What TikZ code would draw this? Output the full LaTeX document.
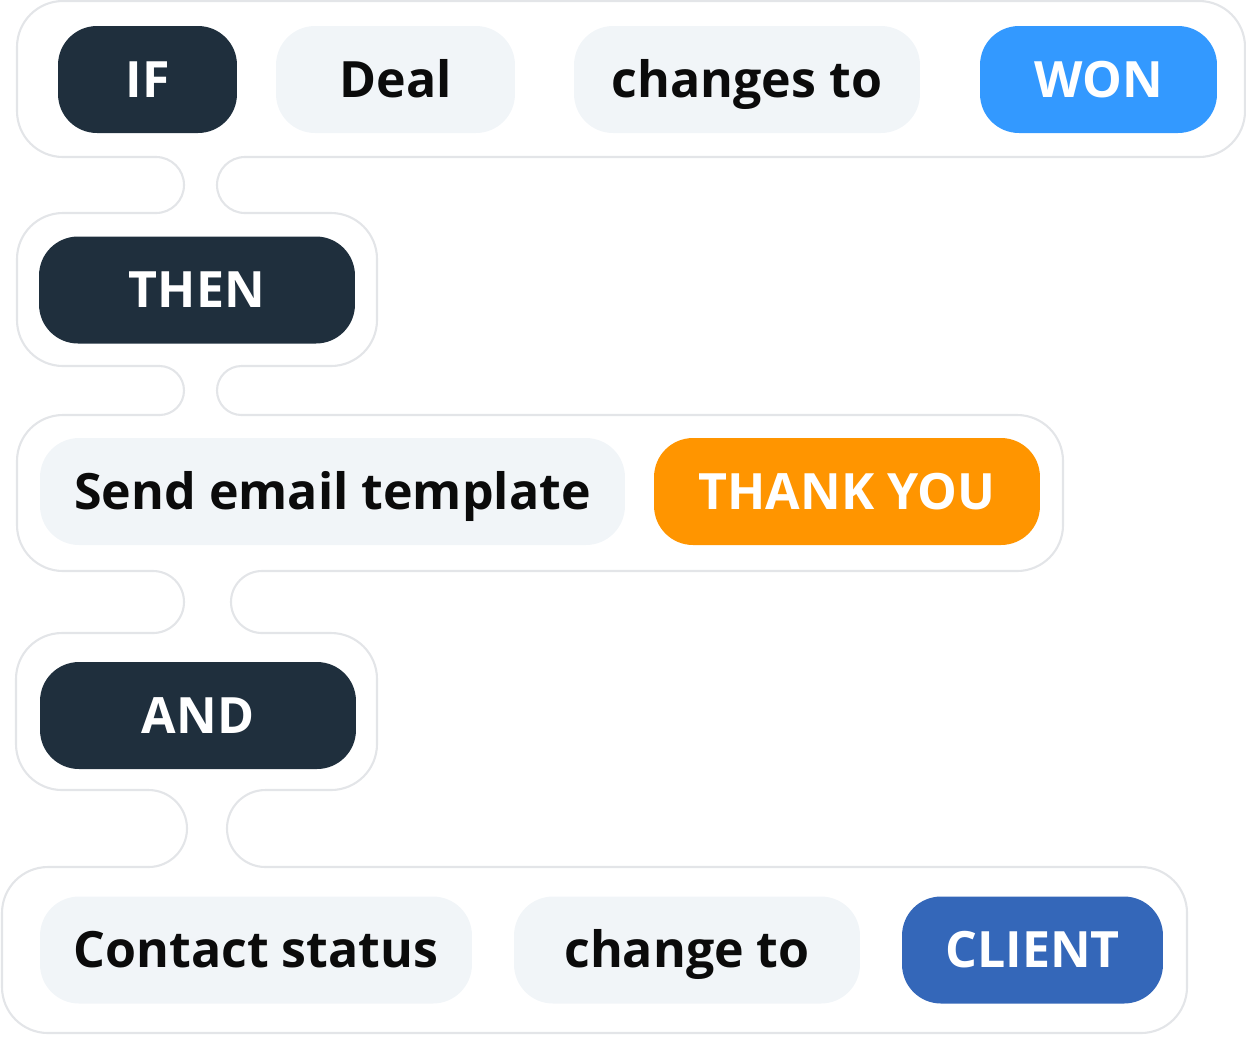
\documentclass[tikz,border=0pt]{standalone}
\usepackage{fontspec}
\setmainfont{Open Sans}
\usetikzlibrary{positioning}
\definecolor{rulenavy}{HTML}{1F2F3D}
\definecolor{rulepale}{HTML}{F1F5F8}
\definecolor{ruleblue}{HTML}{3399FF}
\definecolor{ruleorange}{HTML}{FF9500}
\definecolor{rulecobalt}{HTML}{3467B9}
\definecolor{rulegray}{HTML}{E3E5E8}
\definecolor{ruleink}{HTML}{0B0B0B}

\begin{document}
\begin{tikzpicture}[x=0.02cm,y=-0.02cm,
  frame/.style={rulegray,line width=1.2pt,line cap=round,rounded corners=0.92cm},
  neck/.style={rulegray,line width=1.2pt,line cap=round,rounded corners=#1},
  pill/.style={rounded corners=0.78cm,minimum height=2.14cm,inner sep=0pt,
    text height=20.3pt,text depth=0pt,font=\fontsize{28.5}{32}\selectfont\bfseries},
  keyword/.style={pill,fill=rulenavy,text=white},
  field/.style={pill,fill=rulepale,text=ruleink},
  value/.style={pill,fill=#1,text=white}]

  \useasboundingbox (0,0) rectangle (1246,1036);

  % ---- Outer frames (open where the necks join) -------------
  % IF row
  \draw[frame] (245,157) -- (1245,157) -- (1245,1) -- (17,1) -- (17,157) -- (156,157);
  % THEN row
  \draw[frame] (245,213) -- (377,213) -- (377,366) -- (241.5,366);
  \draw[frame] (159.5,366) -- (17,366) -- (17,213) -- (156,213);
  % Action row
  \draw[frame] (241.5,415) -- (1063,415) -- (1063,571) -- (262,571);
  \draw[frame] (153,571) -- (17,571) -- (17,415) -- (159.5,415);
  % AND row
  \draw[frame] (262,633) -- (377,633) -- (377,790) -- (265.5,790);
  \draw[frame] (148.5,790) -- (16,790) -- (16,633) -- (153,633);
  % Status row
  \draw[frame] (265.5,867) -- (1187,867) -- (1187,1033) -- (2,1033) -- (2,867) -- (148.5,867);

  % ---- Necks between the rows -------------------------------
  \draw[neck=0.56cm] (156,157) -- (184,157) -- (184,213) -- (156,213);
  \draw[neck=0.56cm] (245,157) -- (217,157) -- (217,213) -- (245,213);
  \draw[neck=0.49cm] (159.5,366) -- (184,366) -- (184,415) -- (159.5,415);
  \draw[neck=0.49cm] (241.5,366) -- (217,366) -- (217,415) -- (241.5,415);
  \draw[neck=0.62cm] (153,571) -- (184,571) -- (184,633) -- (153,633);
  \draw[neck=0.62cm] (262,571) -- (231,571) -- (231,633) -- (262,633);
  \draw[neck=0.77cm] (148.5,790) -- (187,790) -- (187,867) -- (148.5,867);
  \draw[neck=0.77cm] (265.5,790) -- (227,790) -- (227,867) -- (265.5,867);

  % ---- Trigger ----------------------------------------------
  \node[keyword,minimum width=3.58cm] (if) at (147.5,79.5) {IF};
  \node[field,minimum width=4.78cm] (deal) at (395.5,79.5) {Deal};
  \node[field,minimum width=6.92cm] (changes) at (747,79.5) {changes to};
  \node[value=ruleblue,minimum width=4.74cm] (won) at (1098.5,79.5) {WON};

  % ---- First action -----------------------------------------
  \node[keyword,minimum width=6.32cm] (then) at (197,290) {THEN};
  \node[field,minimum width=11.7cm] (email) at (332.5,491.5) {Send email template};
  \node[value=ruleorange,minimum width=7.72cm] (thanks) at (847,491.5) {THANK YOU};

  % ---- Second action ----------------------------------------
  \node[keyword,minimum width=6.32cm] (and) at (198,715.5) {AND};
  \node[field,minimum width=8.64cm] (status) at (256,950) {Contact status};
  \node[field,minimum width=6.92cm] (change) at (687,950) {change to};
  \node[value=rulecobalt,minimum width=5.22cm] (client) at (1032.5,950) {CLIENT};

\end{tikzpicture}
\end{document}
